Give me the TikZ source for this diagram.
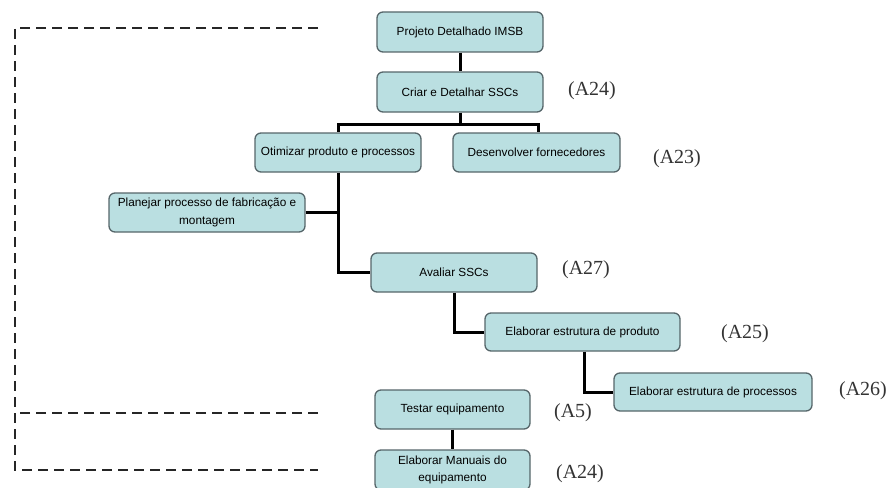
\documentclass[tikz,border=0pt]{standalone}
\usepackage{fontspec}
\setmainfont{Liberation Sans}
\newfontfamily\labelfont{Liberation Serif}
\begin{document}
\begin{tikzpicture}[x=1pt,y=-1pt,
  task/.style={draw=boxline, line width=1.3pt, fill=boxfill, rounded corners=6pt,
    inner sep=2pt, align=center, text=black,
    font=\fontsize{11.8}{17.5}\selectfont},
  link/.style={line width=3pt, black},
  frame/.style={line width=2.4pt, black!85, dash pattern=on 10pt off 6pt},
  code/.style={font=\labelfont\fontsize{20}{22}\selectfont, text=black!80}]
\definecolor{boxfill}{HTML}{BADFE1}
\definecolor{boxline}{HTML}{56666A}
\useasboundingbox (0,0) rectangle (893,487);
\begin{scope}
\clip (0,0) rectangle (893,487);

% activity boxes
\node[task, minimum width=166pt, minimum height=40pt] (proj) at (460,32) {Projeto Detalhado IMSB};
\node[task, minimum width=166pt, minimum height=40pt] (criar) at (460,92) {Criar e Detalhar SSCs};
\node[task, minimum width=166pt, minimum height=39pt] (otim) at (338,152.5) {Otimizar produto e processos};
\node[task, minimum width=167pt, minimum height=39pt] (desenv) at (536.5,152.5) {Desenvolver fornecedores};
\node[task, minimum width=196pt, minimum height=39pt] (plan) at (207,212.5) {Planejar processo de fabricação e\\montagem};
\node[task, minimum width=166pt, minimum height=39pt] (aval) at (454,272.5) {Avaliar SSCs};
\node[task, minimum width=195pt, minimum height=38pt] (prod) at (582.5,332) {Elaborar estrutura de produto};
\node[task, minimum width=198pt, minimum height=38pt] (proc) at (713,392) {Elaborar estrutura de processos};
\node[task, minimum width=155pt, minimum height=39pt] (test) at (452.5,409.5) {Testar equipamento};
\node[task, minimum width=155pt, minimum height=40pt] (manu) at (452.5,470) {Elaborar Manuais do\\equipamento};

% hierarchy connectors
\coordinate (bus) at (460,124);
\draw[link] (proj.south) -- (criar.north);
\draw[link] (criar.south) -- (bus);
\draw[link] (bus) -| (otim.north);
\draw[link] (bus) -| ([xshift=1.5pt]desenv.north);
\draw[link] (otim.south) |- (aval.west);
\draw[link] (plan.east) -- (plan.east -| otim.south);
\draw[link] (aval.south) |- (prod.west);
\draw[link] ([xshift=1.5pt]prod.south) |- (proc.west);
\draw[link] (test.south) -- (manu.north);
\end{scope}

% dashed grouping bracket
\coordinate (ftop) at (318,28);
\coordinate (fmid) at (318,413);
\coordinate (fbot) at (318,470);
\coordinate (fcorner) at (15,470);
\draw[frame] (ftop) -| (fcorner) -- (fbot);
\draw[frame] (fmid) -- (fmid -| fcorner);

% activity codes
\node[code] (c24a) at (592,91) {(A24)};
\node[code] (c23) at (677,159) {(A23)};
\node[code] (c27) at (586,270) {(A27)};
\node[code] (c25) at (745,334) {(A25)};
\node[code] (c26) at (863,391) {(A26)};
\node[code] (c5) at (573,413) {(A5)};
\node[code] (c24b) at (580,474) {(A24)};
\end{tikzpicture}
\end{document}
